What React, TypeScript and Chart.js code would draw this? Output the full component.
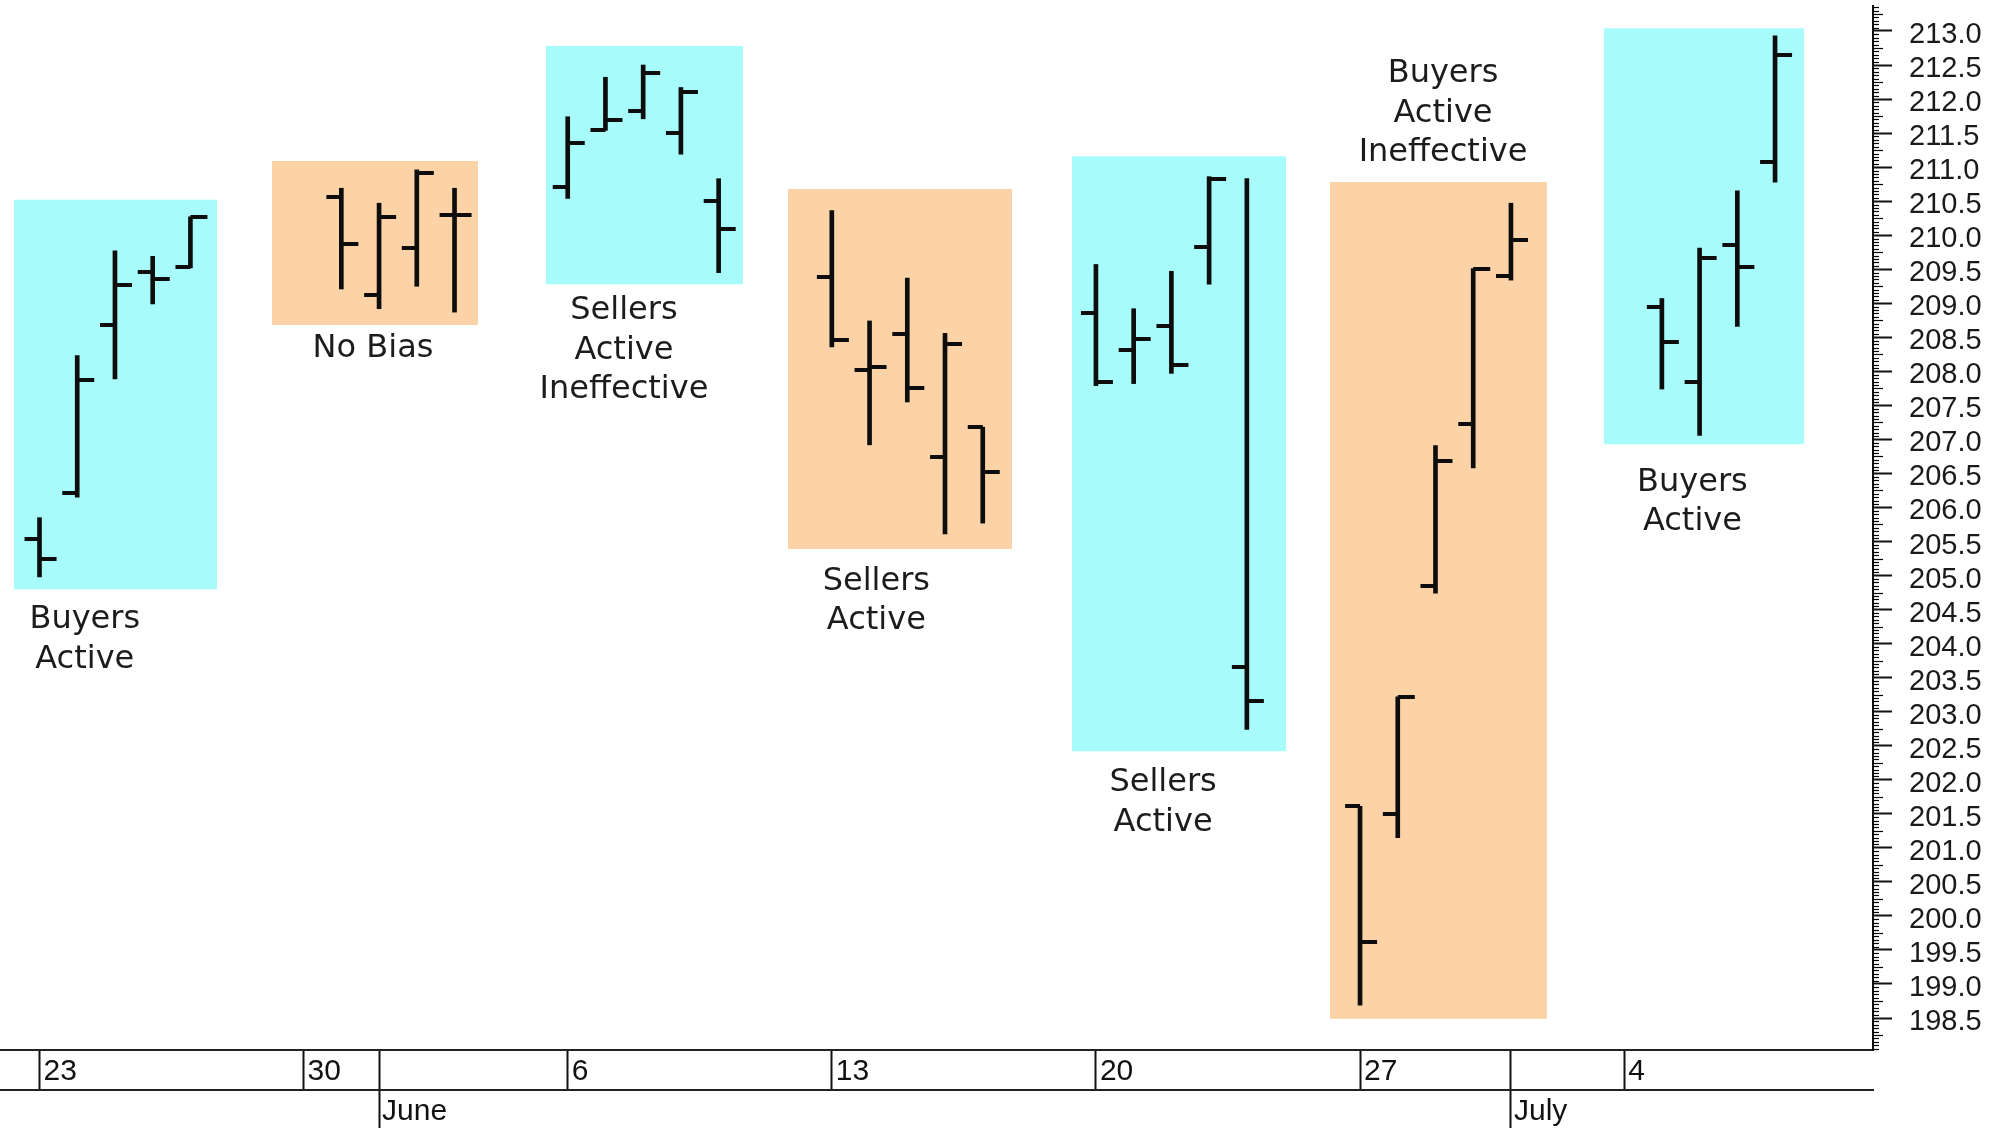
import React, { useEffect, useRef } from 'react';
import { Chart, registerables } from 'chart.js';

Chart.register(...registerables);

// ---------- data ----------
const BASE_DATE = '2016-05-23';

const DATES = [
  '2016-05-23', '2016-05-24', '2016-05-25', '2016-05-26', '2016-05-27',
  '2016-05-31', '2016-06-01', '2016-06-02', '2016-06-03',
  '2016-06-06', '2016-06-07', '2016-06-08', '2016-06-09', '2016-06-10',
  '2016-06-13', '2016-06-14', '2016-06-15', '2016-06-16', '2016-06-17',
  '2016-06-20', '2016-06-21', '2016-06-22', '2016-06-23', '2016-06-24',
  '2016-06-27', '2016-06-28', '2016-06-29', '2016-06-30', '2016-07-01',
  '2016-07-05', '2016-07-06', '2016-07-07', '2016-07-08',
];

const OPEN = [
  205.54, 206.21, 208.68, 209.46, 209.53,
  210.56, 209.12, 209.81, 210.30,
  210.71, 211.54, 211.83, 211.50, 210.50,
  209.39, 208.02, 208.55, 206.74, 207.18,
  208.85, 208.32, 208.66, 209.82, 203.66,
  201.61, 201.50, 204.84, 207.22, 209.40,
  208.94, 207.84, 209.86, 211.07,
];

const HIGH = [
  205.85, 208.23, 209.77, 209.69, 210.27,
  210.69, 210.47, 210.96, 210.69,
  211.74, 212.32, 212.50, 212.17, 210.83,
  210.36, 208.74, 209.37, 208.56, 207.18,
  209.57, 208.92, 209.47, 210.86, 210.83,
  201.61, 203.22, 206.91, 209.51, 210.47,
  209.07, 209.81, 210.65, 212.93,
];

const LOW = [
  204.98, 206.15, 207.89, 208.99, 209.52,
  209.21, 208.92, 209.25, 208.87,
  210.54, 211.54, 211.71, 211.19, 209.45,
  208.36, 206.92, 207.55, 205.61, 205.77,
  207.79, 207.82, 207.97, 209.28, 202.74,
  198.69, 201.15, 204.74, 206.58, 209.34,
  207.74, 207.06, 208.66, 210.78,
];

const CLOSE = [
  205.24, 207.87, 209.27, 209.36, 210.27,
  209.87, 210.27, 210.91, 210.30,
  211.36, 211.69, 212.39, 212.10, 210.09,
  208.46, 208.06, 207.76, 208.40, 206.52,
  207.85, 208.47, 208.09, 210.82, 203.15,
  199.62, 203.22, 206.68, 209.51, 209.93,
  208.43, 209.67, 209.53, 212.65,
];

// shaded regions (x in days from BASE_DATE, y in price)
const BOX_X0 = [-0.676, 6.162, 13.424, 19.838, 27.366, 34.203, 41.465];
const BOX_X1 = [4.704, 11.622, 18.645, 25.775, 33.038, 39.955, 46.765];
const BOX_TOP = [210.52, 211.09, 212.78, 210.68, 211.16, 210.78, 213.04];
const BOX_BOTTOM = [204.80, 208.68, 209.28, 205.39, 202.42, 198.49, 206.93];

// annotations
const NOTE_LINES = [
  ['Buyers', 'Active'],
  ['No Bias'],
  ['Sellers', 'Active', 'Ineffective'],
  ['Sellers', 'Active'],
  ['Sellers', 'Active'],
  ['Buyers', 'Active', 'Ineffective'],
  ['Buyers', 'Active'],
];
const NOTE_X = [1.20, 8.84, 15.49, 22.18, 29.78, 37.20, 43.81];
const NOTE_Y = [204.35, 208.34, 208.89, 204.91, 201.95, 212.37, 206.37];

// axes
const X_TICK_DATES = ['2016-05-23', '2016-05-30', '2016-06-01', '2016-06-06', '2016-06-13', '2016-06-20', '2016-06-27', '2016-07-01', '2016-07-04'];
const X_TICK_LABELS = ['23', '30', '', '6', '13', '20', '27', '', '4'];
const MONTH_DATES = ['2016-06-01', '2016-07-01'];
const MONTH_LABELS = ['June', 'July'];
const Y_TICKS = [
  198.5, 199.0, 199.5, 200.0, 200.5, 201.0, 201.5, 202.0, 202.5, 203.0,
  203.5, 204.0, 204.5, 205.0, 205.5, 206.0, 206.5, 207.0, 207.5, 208.0,
  208.5, 209.0, 209.5, 210.0, 210.5, 211.0, 211.5, 212.0, 212.5, 213.0,
];

const X_MIN = -1.047;
const X_MAX = 48.596;
const Y_MIN = 198.03;
const Y_MAX = 213.367;

// ---------- styles ----------
const BLUE = '#a8fbfb';
const ORANGE = '#fbd3a7';
const INK = '#0d0d0d';
const NOTE_FONT = '32px "DejaVu Sans", Verdana, sans-serif';
const NOTE_LINE_GAP = 39.5;
const AXIS_FONT = '"Liberation Sans", Arial, sans-serif';

const dayOf = (s: string) => (Date.parse(s) - Date.parse(BASE_DATE)) / 86400000;

function makeTickImage(side: 'open' | 'close') {
  const c = document.createElement('canvas');
  c.width = 36;
  c.height = 4;
  const g = c.getContext('2d')!;
  g.fillStyle = INK;
  if (side === 'open') g.fillRect(3, 0, 15, 4);
  else g.fillRect(18, 0, 17, 4);
  return c;
}

const decorPlugin = {
  id: 'decor',
  afterDatasetsDraw(chart: any) {
    const { ctx } = chart;
    const x = chart.scales.x;
    const y = chart.scales.y;
    ctx.save();
    ctx.font = NOTE_FONT;
    ctx.fillStyle = '#1c1c1c';
    ctx.textAlign = 'center';
    ctx.textBaseline = 'middle';
    NOTE_LINES.forEach((lines, i) => {
      const px = x.getPixelForValue(NOTE_X[i]);
      const py = y.getPixelForValue(NOTE_Y[i]);
      lines.forEach((t, j) => ctx.fillText(t, px, py + j * NOTE_LINE_GAP));
    });
    ctx.restore();
  },
  afterDraw(chart: any) {
    const { ctx, chartArea } = chart;
    const y = chart.scales.y;
    ctx.save();
    ctx.strokeStyle = '#000';
    ctx.lineWidth = 1.2;
    const start = Math.ceil(y.min * 20);
    const end = Math.floor(y.max * 20);
    for (let k = start; k <= end; k++) {
      if (k % 10 === 0) continue;
      const len = k % 5 === 0 ? 10 : 6;
      const py = Math.round(y.getPixelForValue(k / 20)) + 0.5;
      ctx.beginPath();
      ctx.moveTo(chartArea.right, py);
      ctx.lineTo(chartArea.right + len, py);
      ctx.stroke();
    }
    ctx.restore();
  },
};

export default function App() {
  const ref = useRef<HTMLCanvasElement | null>(null);

  useEffect(() => {
    document.body.style.margin = '0';
    document.body.style.overflow = 'hidden';
    const canvas = ref.current!;
    const openImg = makeTickImage('open');
    const closeImg = makeTickImage('close');

    const boxSets = BOX_X0.map((x0, i) => ({
      type: 'line' as const,
      data: [
        { x: x0, y: BOX_TOP[i] },
        { x: BOX_X1[i], y: BOX_TOP[i] },
      ],
      fill: { value: BOX_BOTTOM[i] },
      backgroundColor: i % 2 === 0 ? BLUE : ORANGE,
      borderColor: 'rgba(0,0,0,0)',
      borderWidth: 0,
      pointRadius: 0,
      order: 10,
    }));

    const chart = new Chart(canvas, {
      type: 'line',
      data: {
        datasets: [
          ...boxSets,
          {
            type: 'bar',
            data: DATES.map((d, i) => ({ x: dayOf(d), y: [LOW[i], HIGH[i]] })),
            backgroundColor: INK,
            borderWidth: 0,
            borderSkipped: false,
            barThickness: 4,
            grouped: false,
            order: 5,
          } as any,
          {
            type: 'line',
            showLine: false,
            data: DATES.map((d, i) => ({ x: dayOf(d), y: OPEN[i] })),
            pointStyle: openImg,
            pointRadius: 3,
            borderColor: INK,
            backgroundColor: INK,
            order: 1,
          } as any,
          {
            type: 'line',
            showLine: false,
            data: DATES.map((d, i) => ({ x: dayOf(d), y: CLOSE[i] })),
            pointStyle: closeImg,
            pointRadius: 3,
            borderColor: INK,
            backgroundColor: INK,
            order: 1,
          } as any,
        ],
      },
      options: {
        responsive: false,
        animation: false,
        events: [],
        layout: { autoPadding: false, padding: { top: 6, left: 0, right: 0, bottom: 0 } },
        plugins: {
          legend: { display: false },
          tooltip: { enabled: false },
          title: { display: false },
        },
        scales: {
          x: {
            type: 'linear',
            position: 'bottom',
            min: X_MIN,
            max: X_MAX,
            offset: false,
            weight: 0,
            grid: { drawOnChartArea: false, drawTicks: true, tickLength: 40, tickColor: '#111', tickWidth: 2, offset: false },
            border: { display: true, color: '#222', width: 2 },
            ticks: {
              autoSkip: false,
              maxRotation: 0,
              minRotation: 0,
              align: 'start',
              padding: -36,
              labelOffset: 4,
              color: '#111',
              font: { family: AXIS_FONT, size: 30 },
              callback: (_v: any, i: number) => X_TICK_LABELS[i] ?? '',
            },
            afterBuildTicks: (s: any) => {
              s.ticks = X_TICK_DATES.map((d) => ({ value: dayOf(d) }));
            },
            afterFit: (s: any) => {
              s.height = 40;
              s.paddingLeft = 0;
              s.paddingRight = 0;
            },
          } as any,
          x2: {
            type: 'linear',
            position: 'bottom',
            min: X_MIN,
            max: X_MAX,
            offset: false,
            weight: 1,
            grid: { drawOnChartArea: false, drawTicks: true, tickLength: 38, tickColor: '#111', tickWidth: 2, offset: false },
            border: { display: true, color: '#222', width: 2 },
            ticks: {
              autoSkip: false,
              maxRotation: 0,
              minRotation: 0,
              align: 'start',
              padding: -34,
              labelOffset: 3,
              color: '#111',
              font: { family: AXIS_FONT, size: 30 },
              callback: (_v: any, i: number) => MONTH_LABELS[i] ?? '',
            },
            afterBuildTicks: (s: any) => {
              s.ticks = MONTH_DATES.map((d) => ({ value: dayOf(d) }));
            },
            afterFit: (s: any) => {
              s.height = 38;
              s.paddingLeft = 0;
              s.paddingRight = 0;
            },
          } as any,
          y: {
            type: 'linear',
            position: 'right',
            min: Y_MIN,
            max: Y_MAX,
            grid: { drawOnChartArea: false, drawTicks: true, tickLength: 19, tickColor: '#111', tickWidth: 2 },
            border: { display: true, color: '#111', width: 2 },
            ticks: {
              autoSkip: false,
              padding: 17,
              labelOffset: 4,
              color: '#1a1a1a',
              font: { family: AXIS_FONT, size: 29 },
              callback: (v: any) => Number(v).toFixed(1),
            },
            afterBuildTicks: (s: any) => {
              s.ticks = Y_TICKS.map((v) => ({ value: v }));
            },
            afterFit: (s: any) => {
              s.width = 126;
              s.paddingTop = 0;
              s.paddingBottom = 0;
            },
          } as any,
        },
      },
      plugins: [decorPlugin],
    });

    return () => chart.destroy();
  }, []);

  return (
    <div style={{ width: 1999, height: 1128, background: '#fff' }}>
      <canvas ref={ref} width={1999} height={1128} style={{ display: 'block', width: 1999, height: 1128 }} />
    </div>
  );
}
